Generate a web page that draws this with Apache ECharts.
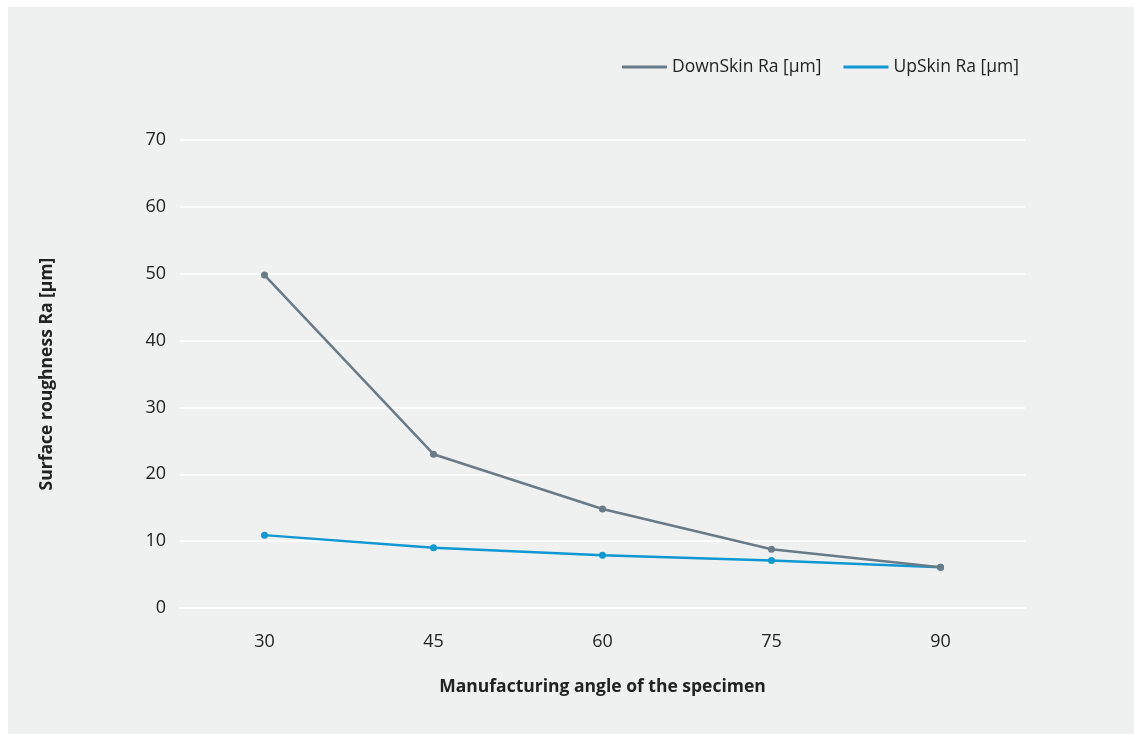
<!DOCTYPE html>
<html lang="en">
<head>
    <meta charset="UTF-8">
    <title>Surface roughness</title>
    <script src="https://cdn.jsdelivr.net/npm/echarts@6/dist/echarts.min.js"></script>
    <style>
        body { margin: 0; background: #ffffff; }
        #chart { position: absolute; left: 8px; top: 7px; width: 1126px; height: 727px; background: #eff1f0; }
    </style>
</head>
<body>
<div id="chart"></div>
<script>
    var angles = ['30', '45', '60', '75', '90'];
    var downSkin = [49.8, 23.0, 14.8, 8.8, 6.1];
    var upSkin = [10.9, 9.0, 7.9, 7.1, 6.1];
    var yTicks = { min: 0, max: 70, interval: 10 };

    var font = 'Open Sans';
    var myChart = echarts.init(document.getElementById('chart'));

    var option = {
        backgroundColor: 'transparent',
        textStyle: { fontFamily: font },
        legend: {
            right: 110,
            top: 46,
            itemWidth: 45,
            itemHeight: 14,
            itemGap: 22,
            icon: 'path://M0,6 L45,6 L45,9 L0,9 Z',
            textStyle: { fontSize: 17.5, color: '#222', fontFamily: font },
            data: ['DownSkin Ra [µm]', 'UpSkin Ra [µm]']
        },
        grid: {
            left: 172,
            right: 109,
            top: 133,
            bottom: 126
        },
        xAxis: {
            type: 'category',
            data: angles,
            boundaryGap: true,
            name: 'Manufacturing angle of the specimen',
            nameLocation: 'middle',
            nameGap: 70,
            nameTextStyle: { fontSize: 17.5, fontWeight: 'bold', color: '#222', fontFamily: font },
            axisLine: { lineStyle: { color: '#ffffff', width: 2 } },
            axisTick: { alignWithLabel: true, length: 9, lineStyle: { color: '#ffffff', width: 2 } },
            axisLabel: { fontSize: 18, color: '#222', margin: 25 }
        },
        yAxis: {
            type: 'value',
            min: yTicks.min,
            max: yTicks.max,
            interval: yTicks.interval,
            name: 'Surface roughness Ra [µm]',
            nameLocation: 'middle',
            nameGap: 124,
            nameTextStyle: { fontSize: 17.5, fontWeight: 'bold', color: '#222', fontFamily: font },
            axisLine: { show: false },
            axisTick: { show: false },
            axisLabel: { fontSize: 18, color: '#222', margin: 14 },
            splitLine: { lineStyle: { color: '#ffffff', width: 1.5 } }
        },
        series: [{
            name: 'DownSkin Ra [µm]',
            type: 'line',
            data: downSkin,
            color: '#687b87',
            symbol: 'circle',
            symbolSize: 7,
            lineStyle: { width: 2.5 },
            z: 3
        }, {
            name: 'UpSkin Ra [µm]',
            type: 'line',
            data: upSkin,
            color: '#0f98d3',
            symbol: 'circle',
            symbolSize: 7,
            lineStyle: { width: 2.5 },
            z: 2
        }]
    };

    myChart.setOption(option);
</script>
</body>
</html>
